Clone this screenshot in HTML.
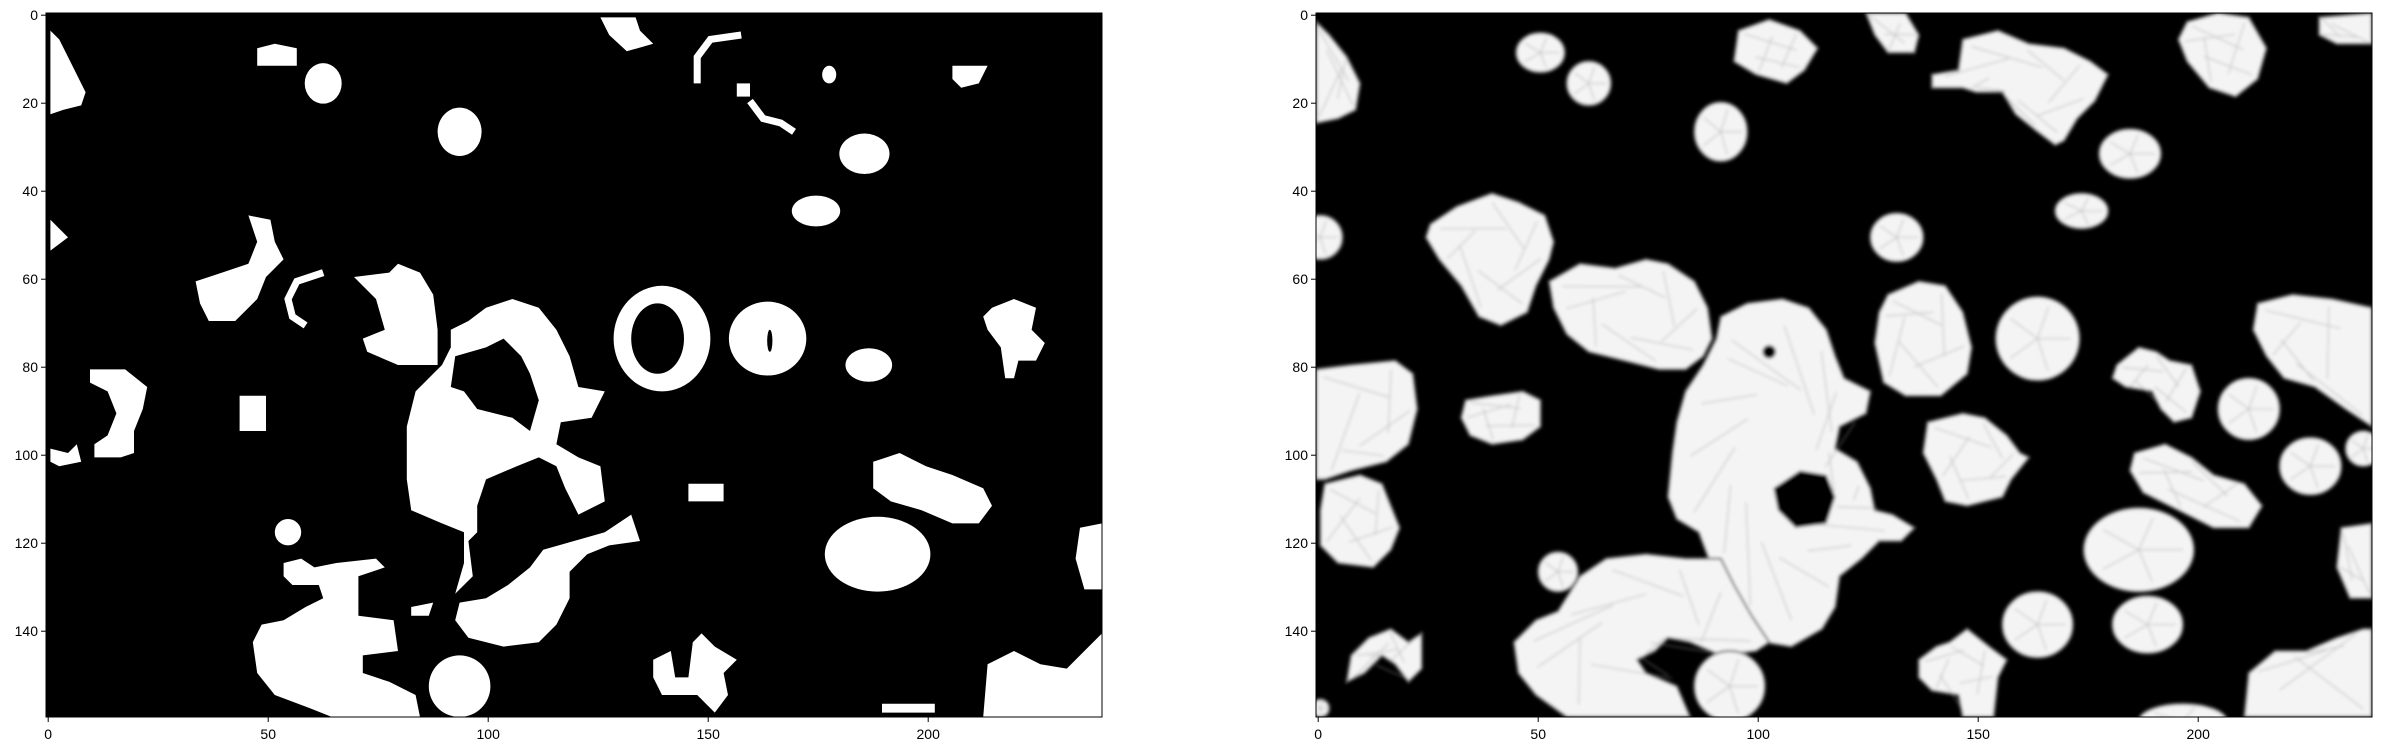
<!DOCTYPE html>
<html><head><meta charset="utf-8">
<style>
html,body{margin:0;padding:0;background:#fff;}
body{width:2381px;height:751px;position:relative;overflow:hidden;font-family:"Liberation Sans",sans-serif;}
svg{position:absolute;left:0;top:0;}
text{font-family:"Liberation Sans",sans-serif;font-size:14px;fill:#000;}
</style></head>
<body>
<svg id="root" width="2381" height="751" viewBox="0 0 2381 751">
<defs>
<filter id="soft" x="-5%" y="-5%" width="110%" height="110%"><feGaussianBlur stdDeviation="0.35"/></filter>
</defs>
</svg>
<script>
const xTicks=[0,50,100,150,200];
const yTicks=[0,20,40,60,80,100,120,140];
const imgW=240, imgH=160;
const leftPolys=[
[[1,4],[3,6],[6,12],[9,18],[8,21],[4,22],[1,23]],
[[48,8],[52,7],[57,8],[57,12],[48,12]],
[[126,1],[134,1],[135,4],[138,7],[132,8.7],[128,5]],
[[157,16],[160,16],[160,19],[157,19]],
[[206,12],[214,12],[212,16],[208,17],[206,15]],
[[1,47],[5,51],[1,54]],
[[46,46],[51,47],[52,52],[54,56],[50,60],[48,65],[43,70],[37,70],[35,66],[34,61],[40,59],[46,57],[48,52]],
[[70,60],[78,59],[80,57],[85,59],[88,64],[89,72],[89,80],[80,80],[73,77],[72,74],[77,72],[75,65]],
[[92,72],[96,70],[100,67],[106,65],[112,67],[116,72],[119,78],[121,85],[127,86],[124,92],[117,93],[116,98],[121,101],[126,103],[127,111],[121,114],[118,108],[116,103],[112,101],[107,103],[100,106],[98,112],[98,118],[96,120],[97,128],[93,132],[95,125],[95,118],[90,116],[83,113],[82,106],[82,94],[84,86],[88,82],[90,80],[92,76]],
[[133,114],[135,120],[128,121],[123,123],[119,127],[119,133],[116,139],[112,143],[104,144],[96,142],[93,138],[94,134],[100,133],[105,130],[110,126],[113,122],[120,120],[127,118]],
[[188,102],[194,100],[200,103],[206,105],[213,108],[215,112],[212,116],[206,116],[199,113],[192,111],[188,108]],
[[146,107],[154,107],[154,111],[146,111]],
[[215,67],[220,65],[225,67],[224,72],[227,75],[225,79],[221,79],[220,83],[218,83],[217,76],[214,72],[213,69]],
[[10,81],[18,81],[23,85],[22,90],[20,95],[20,100],[17,101],[11,101],[11,98],[14,96],[16,91],[14,86],[10,84]],
[[1,99],[5,100],[7,98],[8,102],[3,103],[1,102]],
[[44,87],[50,87],[50,95],[44,95]],
[[54,125],[58,124],[61,126],[66,125],[75,124],[77,126],[71,128],[71,137],[79,138],[80,145],[72,146],[72,150],[78,152],[84,155],[85,160],[65,160],[60,158],[52,155],[48,150],[47,143],[49,139],[54,138],[59,135],[63,133],[62,130],[56,130],[54,128]],
[[138,147],[142,145],[143,151],[146,151],[147,143],[149,141],[152,144],[157,147],[154,150],[155,155],[152,159],[148,155],[144,155],[140,155],[138,151]],
[[214,148],[220,145],[226,148],[232,149],[235,146],[240,141],[240,160],[213,160]],
[[235,117],[240,116],[240,131],[236,131],[234,124]],
[[190,157],[202,157],[202,159],[190,159]],
[[83,135],[88,134],[87,137],[83,137]]
];
const leftEll=[[63,16,4.2,4.6],[94,27,5,5.5],[178,14,1.6,2],[186,32,5.7,4.6],[175,45,5.5,3.5],[140,74,11,12],[164,74,8.8,8.4],[187,80,5.3,3.8],[189,123,12,8.5],[94,153,7,7],[55,118,3,3]];
const leftHoles=[[[93,78],[100,76],[104,74],[108,78],[110,82],[112,88],[110,95],[106,92],[98,90],[95,86],[92,85]]];
const leftHoleEll=[[139,74,6,8],[164.5,74.5,0.6,2.5]];
const leftArcs=[[[148,16],[148,10],[151,6],[158,5]],[[160,20],[163,24],[167,25],[170,27]],[[63,59],[57,61],[55,65],[56,69],[59,71]]];
const rightPolys=[
[[0,2],[3,5],[7,10],[10,16],[9,22],[5,24],[0,25]],
[[96,4],[103,1.5],[110,4],[114,8],[111,13],[107,16],[100,14],[95,11]],
[[125,0],[134,0],[137,5],[136,9],[130,9],[127,5]],
[[140,14],[146,13],[147,6],[155,4],[162,7],[170,8],[176,11],[180,14],[177,20],[173,24],[170,29],[168,30],[164,27],[159,23],[156,18],[150,18],[147,17],[140,17]],
[[198,2],[205,0],[212,1],[216,8],[214,15],[209,19],[203,17],[198,11],[196,6]],
[[228,1],[240,0],[240,7],[232,7],[228,5]],
[[26,48],[32,44],[40,41],[46,43],[52,46],[54,52],[53,56],[50,62],[48,68],[42,71],[37,69],[33,62],[28,56],[25,51]],
[[53,61],[60,57],[68,58],[75,56],[80,57],[86,61],[89,67],[90,74],[88,78],[84,81],[78,81],[70,79],[62,77],[57,73],[54,67]],
[[92,69],[98,66],[106,65],[112,67],[116,72],[118,78],[120,83],[126,86],[125,91],[119,94],[118,99],[123,102],[126,108],[127,113],[131,114],[136,117],[133,120],[128,120],[124,124],[119,128],[118,135],[115,140],[108,144],[102,143],[97,140],[94,136],[90,126],[87,118],[82,115],[80,110],[81,100],[82,93],[84,86],[88,80],[91,74]],
[[45,143],[50,138],[55,136],[60,128],[66,124],[75,123],[84,124],[92,124],[95,130],[99,137],[103,143],[100,145],[92,146],[85,143],[80,142],[77,145],[73,147],[75,150],[82,153],[85,160],[57,160],[50,155],[46,150]],
[[130,64],[137,61],[143,62],[147,68],[149,76],[148,82],[142,87],[134,87],[129,84],[127,75],[128,68]],
[[139,93],[147,91],[152,92],[157,96],[160,100],[162,101],[158,106],[156,110],[148,112],[143,111],[141,106],[138,100]],
[[34,88],[40,87],[47,86],[51,88],[51,94],[47,97],[40,98],[35,96],[33,92]],
[[0,81],[8,80],[18,79],[22,82],[23,90],[21,98],[16,102],[8,104],[2,106],[0,106]],
[[2,107],[10,105],[15,107],[17,112],[19,117],[17,122],[13,126],[5,125],[1,121],[1,113]],
[[182,80],[187,76],[191,77],[194,79],[199,80],[201,86],[199,92],[195,93],[192,90],[190,86],[184,85],[181,83]],
[[214,66],[222,64],[231,65],[240,67],[240,94],[234,90],[227,85],[220,83],[216,78],[213,72]],
[[186,100],[193,98],[199,101],[204,105],[211,107],[215,112],[212,117],[204,117],[196,113],[188,109],[185,104]],
[[137,147],[141,144],[144,143],[148,140],[153,144],[157,147],[155,151],[154,160],[147,160],[146,155],[140,154],[137,151]],
[[233,117],[240,116],[240,133],[235,133],[232,126]],
[[212,150],[218,145],[225,145],[232,142],[238,140],[240,140],[240,160],[211,160]],
[[8,146],[12,142],[17,140],[21,143],[24,141],[24,149],[21,152],[18,148],[15,146],[11,150],[7,152]]
];
const rightEll=[[51,9,5.5,4.5],[62,16,5,5],[92,27,6,6.7],[185,32,7,5.6],[174,45,6,4],[132,51,6,5.5],[1,51,5,5],[164,74,9.5,9.5],[212,90,7,7],[226,103,7,6.5],[238,99,4,4],[187,122,12.5,9.5],[189,139,8,6.5],[164,139,8,7.5],[197,161,10,4],[94,153,8,8],[55,127,4.5,4.5],[1,158,2,2]];
const rightHoles=[[[104,108],[110,104],[116,105],[118,110],[116,116],[109,117],[105,113]]];
const rightHoleEll=[[103,77,1.5,1.5]];

const NS='http://www.w3.org/2000/svg';
const root=document.getElementById('root');
const axes=[{x0:46,name:'left'},{x0:1316,name:'right'}];
const top0=13, pxPer=4.4;
function sx(ax,v){return ax.x0+v*pxPer;}
function sy(v){return top0+v*pxPer;}
function mk(tag,attrs,parent){const e=document.createElementNS(NS,tag);for(const k in attrs)e.setAttribute(k,attrs[k]);parent.appendChild(e);return e;}
function pts(p){return p.map(q=>q[0]+','+q[1]).join(' ');}

axes.forEach((ax,i)=>{
  const g=mk('g',{},root);
  
  
  const inner=mk('svg',{x:ax.x0,y:top0,width:imgW*pxPer,height:imgH*pxPer,viewBox:'0 0 240 160',preserveAspectRatio:'none'},g);
  const bg=mk('rect',{x:0,y:0,width:240,height:160,fill:'#000'},inner);
  
  
  const isR=i===1;
  const polys=isR?rightPolys:leftPolys, ells=isR?rightEll:leftEll, holes=isR?rightHoles:leftHoles, holeE=isR?rightHoleEll:leftHoleEll;
  const bg2=mk('g',isR?{filter:'url(#soft)'}:{},inner);
  const fill=isR?'#f4f4f4':'#fff';
  const st=isR?{stroke:'#777','stroke-width':0.5}:{};
  polys.forEach(p=>{
    const el=mk('polygon',Object.assign({points:pts(p),fill:fill},st),bg2);
    
    
  });
  ells.forEach(e=>{
    const el=mk('ellipse',Object.assign({cx:e[0],cy:e[1],rx:e[2],ry:e[3],fill:fill},st),bg2);
    
    
  });
  if(!isR){
    leftArcs.forEach(a=>{
      const el=mk('polyline',{points:pts(a),fill:'none',stroke:'#fff','stroke-width':1.6},bg2);
      
      
    });
  }
  if(isR){
    const tex=mk('g',{stroke:'#9a9a9a','stroke-width':0.3,opacity:0.45,fill:'none'},bg2);
    polys.forEach(p=>{
      let cx=0,cy=0;p.forEach(q=>{cx+=q[0];cy+=q[1];});cx/=p.length;cy/=p.length;
      p.forEach((q,k)=>{
        const nb=p[(k+3)%p.length];
        const mx=(cx+nb[0])/2,my=(cy+nb[1])/2;
        if(k%2===0){mk('line',{x1:mx,y1:my,x2:cx+(q[0]-cx)*0.85,y2:cy+(q[1]-cy)*0.85},tex);}
      });
    });
    ells.forEach(e=>{
      for(let k=0;k<5;k++){const a=k*1.26;mk('line',{x1:e[0],y1:e[1],x2:e[0]+Math.cos(a)*e[2]*0.8,y2:e[1]+Math.sin(a)*e[3]*0.8},tex);}
    });
  }
  holes.forEach(p=>{mk('polygon',{points:pts(p),fill:'#000'},bg2);});
  holeE.forEach(e=>{mk('ellipse',{cx:e[0],cy:e[1],rx:e[2],ry:e[3],fill:'#000'},bg2);});
  const fr=mk('rect',{x:ax.x0,y:top0,width:imgW*pxPer,height:imgH*pxPer,fill:'none',stroke:'#000','stroke-width':1},g);
  
  
  const bottom=top0+imgH*pxPer;
  xTicks.forEach(t=>{
    const x=sx(ax,t+0.5);
    mk('line',{x1:x,y1:bottom,x2:x,y2:bottom+5,stroke:'#000','stroke-width':1},g);
    const tx=mk('text',{x:x,y:bottom+22,'text-anchor':'middle'},g);
    tx.textContent=String(t);
    
    
  });
  yTicks.forEach(t=>{
    const y=sy(t+0.5);
    mk('line',{x1:ax.x0-5,y1:y,x2:ax.x0,y2:y,stroke:'#000','stroke-width':1},g);
    const tx=mk('text',{x:ax.x0-8,y:y+5,'text-anchor':'end'},g);
    tx.textContent=String(t);
    
    
  });
});
</script>
</body></html>
